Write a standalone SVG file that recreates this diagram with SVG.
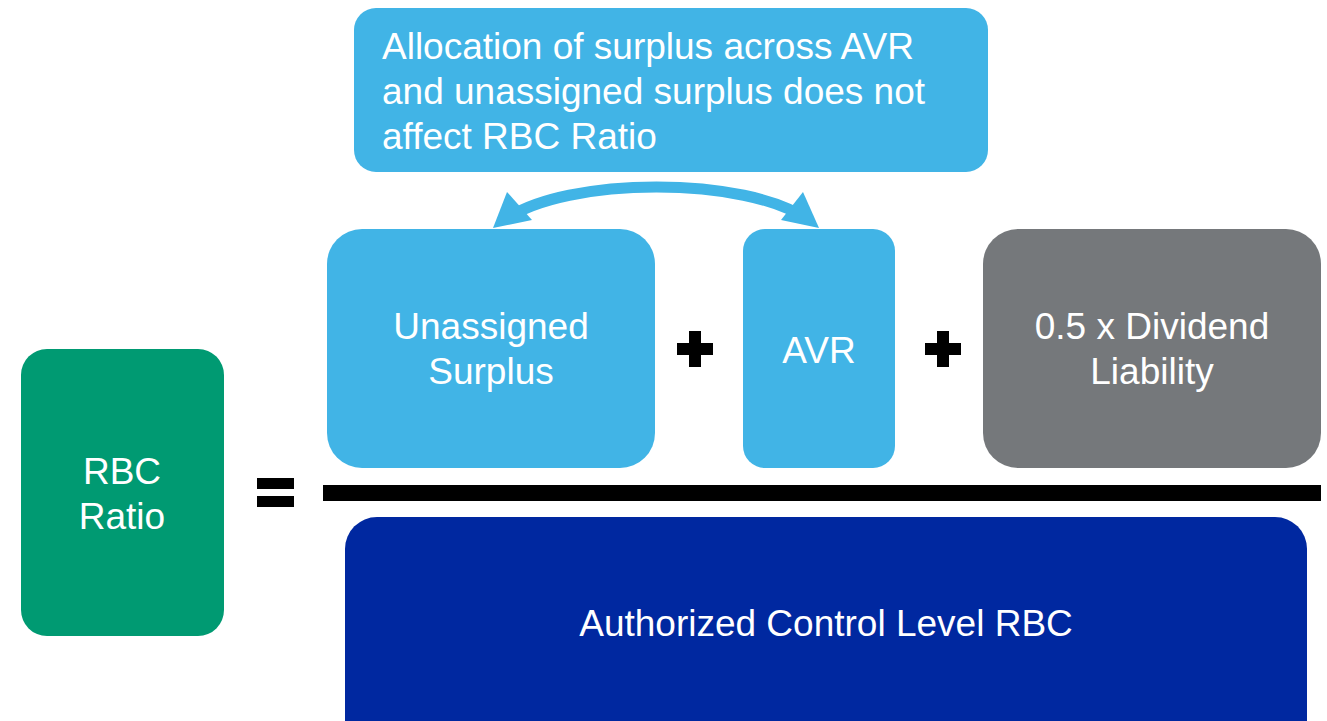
<svg xmlns="http://www.w3.org/2000/svg" width="1327" height="721" viewBox="0 0 1327 721">
<style>
.t{font-family:"Liberation Sans",Arial,sans-serif;font-size:37px;fill:#fff}
.c{text-anchor:middle}
.lb{fill:#41B4E6}
.blk{fill:#000}
</style>
<rect width="1327" height="721" fill="#fff"/>
<g id="callout">
<rect class="lb" x="354" y="8" width="634" height="164" rx="22"/>
<text class="t" x="382" y="59">Allocation of surplus across AVR</text>
<text class="t" x="382" y="104">and unassigned surplus does not</text>
<text class="t" x="382" y="149">affect RBC Ratio</text>
</g>
<g id="connectors">
<path d="M505,220 C565,176 748,176 808,220" fill="none" stroke="#41B4E6" stroke-width="11"/>
<path d="M493,228 L507,192 L532,220 Z" fill="#41B4E6"/>
<path d="M819,228 L803,192 L781,220 Z" fill="#41B4E6"/>
</g>
<g id="unassigned">
<rect class="lb" x="327" y="229" width="328" height="239" rx="35"/>
<text class="t c" x="491" y="339">Unassigned</text>
<text class="t c" x="491" y="384">Surplus</text>
</g>
<g id="plus1">
<rect class="blk" x="677" y="343" width="36" height="12"/>
<rect class="blk" x="689" y="331" width="12" height="36"/>
</g>
<g id="avr">
<rect class="lb" x="743" y="229" width="152" height="239" rx="22"/>
<text class="t c" x="819" y="363">AVR</text>
</g>
<g id="plus2">
<rect class="blk" x="925" y="343" width="36" height="12"/>
<rect class="blk" x="937" y="331" width="12" height="36"/>
</g>
<g id="dividend">
<rect x="983" y="229" width="338" height="239" rx="35" fill="#75787B"/>
<text class="t c" x="1152" y="339">0.5 x Dividend</text>
<text class="t c" x="1152" y="384">Liability</text>
</g>
<g id="fraction-line">
<rect class="blk" x="323" y="485" width="998" height="16"/>
</g>
<g id="rbc-ratio">
<rect x="21" y="349" width="203" height="287" rx="26" fill="#009A72"/>
<text class="t c" x="122" y="484">RBC</text>
<text class="t c" x="122" y="529">Ratio</text>
</g>
<g id="equals">
<rect class="blk" x="257" y="478" width="37" height="11"/>
<rect class="blk" x="257" y="496" width="37" height="11"/>
</g>
<g id="acl">
<rect x="345" y="517" width="962" height="240" rx="32" fill="#0028A0"/>
<text class="t c" x="826" y="636">Authorized Control Level RBC</text>
</g>
</svg>
